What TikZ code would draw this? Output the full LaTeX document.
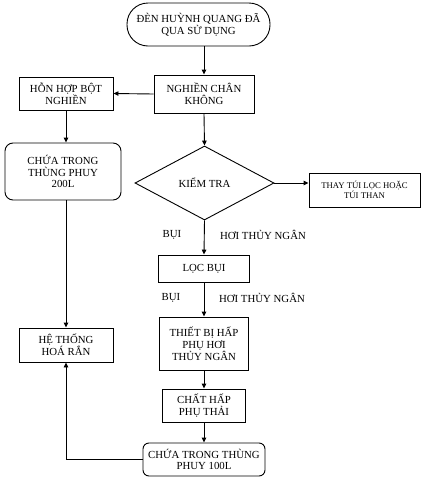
\documentclass[tikz,border=0pt]{standalone}
\usepackage{fontspec}
\setmainfont{Liberation Serif}
\usetikzlibrary{shapes.geometric,arrows.meta}
\begin{document}
\begin{tikzpicture}[x=1pt,y=-1pt,
 box/.style={draw, line width=0.9pt, align=center, inner sep=0pt, font=\fontsize{10.8}{11.8}\selectfont},
 arr/.style={-{Triangle[length=5pt,width=4.5pt]}, line width=0.9pt},
 lbl/.style={font=\fontsize{10.8}{12}\selectfont, inner sep=0pt}]
\useasboundingbox (0,0) rectangle (429,480);
\node[box, rounded corners=21pt, minimum width=143pt, minimum height=43pt] (start) at (198.5,24.5) {ĐÈN HUỲNH QUANG ĐÃ\\QUA SỬ DỤNG};
\node[box, minimum width=100pt, minimum height=38pt] (ng) at (204,94) {NGHIỀN CHÂN\\KHÔNG};
\node[box, minimum width=94pt, minimum height=33pt] (hon) at (66,93.5) {HỖN HỢP BỘT\\NGHIỀN};
\node[box, rounded corners=8pt, minimum width=116pt, minimum height=57pt] (c200) at (63,171.5) {CHỨA TRONG\\THÙNG PHUY\\200L};
\node[box, minimum width=94pt, minimum height=34pt] (ht) at (66,345) {HỆ THỐNG\\HOÁ RẮN};
\node[box, shape=diamond, minimum width=139pt, minimum height=74pt, aspect=1.88] (km) at (204.5,183) {KIỂM TRA};
\node[box, minimum width=111pt, minimum height=34pt, font=\fontsize{8.7}{10.5}\selectfont] (thay) at (364.5,190) {THAY TÚI LỌC HOẶC\\TÚI THAN};
\node[box, minimum width=91pt, minimum height=27pt] (loc) at (204,268.5) {LỌC BỤI};
\node[box, minimum width=89pt, minimum height=53pt] (tb) at (204,343.5) {THIẾT BỊ HẤP\\PHỤ HƠI\\THỦY NGÂN};
\node[box, minimum width=83pt, minimum height=33pt] (ch) at (204,405.5) {CHẤT HẤP\\PHỤ THẢI};
\node[box, rounded corners=6pt, minimum width=122pt, minimum height=33pt] (c100) at (204,459.5) {CHỨA TRONG THÙNG\\PHUY 100L};
\node[lbl] (b1) at (172,235) {BỤI};
\node[lbl] (h1) at (263,235) {HƠI THỦY NGÂN};
\node[lbl] (b2) at (171,298) {BỤI};
\node[lbl] (h2) at (262,298) {HƠI THỦY NGÂN};
\draw[arr] (start.south -| ng.north) -- (ng.north);
\draw[arr] (ng.west) -- (hon.east);
\draw[arr] (hon.south) -- (hon.south |- c200.north);
\draw[arr] (hon.south |- c200.south) -- (ht.north);
\draw[arr] (ng.south) -- (km.north);
\draw[arr] (km.east) -- (km.east -| thay.west);
\draw[arr] (km.south) -- (loc.north);
\draw[arr] (loc.south) -- (tb.north);
\draw[arr] (tb.south) -- (ch.north);
\draw[arr] (ch.south) -- (c100.north);
\draw[arr] (c100.west) -| (ht.south);
\end{tikzpicture}
\end{document}
